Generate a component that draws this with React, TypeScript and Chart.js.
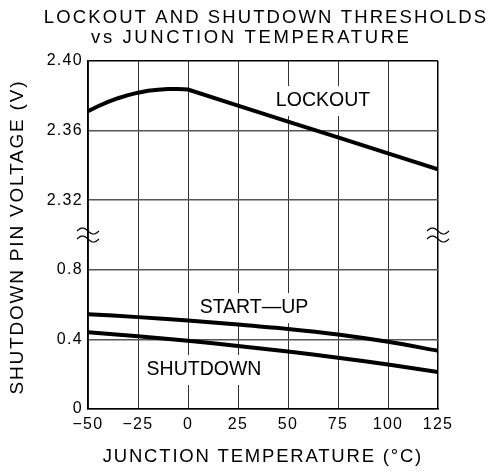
import React, { useEffect, useRef } from "react";
import { Chart, registerables } from "chart.js";

Chart.register(...registerables);

// Data
const LOCKOUT_TEMPS = [-50, -45, -40, -35, -30, -25, -20, -15, -10, -5, 0, 25, 50, 75, 100, 125];
const LOCKOUT_V = [2.3712, 2.374, 2.3765, 2.3786, 2.3804, 2.3818, 2.3829, 2.3835, 2.3839, 2.3839, 2.3836, 2.3744, 2.3652, 2.3561, 2.3469, 2.3378];
const TEMPS = [-50, -25, 0, 25, 50, 75, 100, 125];
const STARTUP_V = [0.545, 0.528, 0.508, 0.485, 0.46, 0.428, 0.386, 0.335];
const SHUTDOWN_V = [0.441, 0.418, 0.392, 0.362, 0.33, 0.295, 0.256, 0.212];
const Y_TICK_LABELS = ["0", "0.4", "0.8", "2.32", "2.36", "2.40"];
const CURVE_LABELS = ["LOCKOUT", "START\u2014UP", "SHUTDOWN"];
const CURVE_LABEL_T = [67.5, 33, 8];
const CURVE_LABEL_V = [2.377, 0.58, 0.224];

const TITLE_1 = "LOCKOUT AND SHUTDOWN THRESHOLDS";
const TITLE_2 = "vs JUNCTION TEMPERATURE";
const X_TITLE = "JUNCTION TEMPERATURE (\u00B0C)";
const Y_TITLE = "SHUTDOWN PIN VOLTAGE (V)";

const FONT = "'Liberation Sans', Arial, sans-serif";

// broken axis: lower part 0..0.8 (0.4 per unit), upper 2.32..2.40 (0.04 per unit)
const toAxis = (v: number) => (v >= 2 ? 3 + (v - 2.32) / 0.04 : v / 0.4);

const pts = (xs: number[], ys: number[]) => xs.map((x, i) => ({ x, y: toAxis(ys[i]) }));

export default function App() {
  const ref = useRef<HTMLCanvasElement | null>(null);

  useEffect(() => {
    const canvas = ref.current;
    if (!canvas) return;

    const spacedText = (
      ctx: CanvasRenderingContext2D,
      text: string,
      x: number,
      y: number,
      size: number,
      spacing: number
    ) => {
      ctx.save();
      ctx.font = `${size}px ${FONT}`;
      (ctx as any).letterSpacing = `${spacing}px`;
      ctx.fillStyle = "#000";
      ctx.textAlign = "center";
      ctx.textBaseline = "middle";
      ctx.fillText(text, x + spacing / 2, y);
      ctx.restore();
    };

    const decor = {
      id: "decor",
      beforeDraw(chart: any) {
        (chart.ctx as any).letterSpacing = "1.3px";
      },
      beforeDatasetsDraw(chart: any) {
        const ctx = chart.ctx as CanvasRenderingContext2D;
        const xs = chart.scales.x;
        const ys = chart.scales.y;
        CURVE_LABELS.forEach((t, i) => {
          const cx = xs.getPixelForValue(CURVE_LABEL_T[i]);
          const cy = ys.getPixelForValue(toAxis(CURVE_LABEL_V[i]));
          ctx.save();
          ctx.font = `19.5px ${FONT}`;
          (ctx as any).letterSpacing = "0px";
          const w = ctx.measureText(t).width;
          ctx.fillStyle = "#fff";
          ctx.fillRect(cx - w / 2 - 4, cy - 15, w + 8, 30);
          ctx.restore();
          spacedText(ctx, t, cx, cy, 19.5, 0);
        });
      },
      afterDraw(chart: any) {
        const ctx = chart.ctx as CanvasRenderingContext2D;
        const area = chart.chartArea;
        spacedText(ctx, TITLE_1, 265, 18, 18.5, 2.1);
        spacedText(ctx, TITLE_2, 250, 38, 18.5, 2.6);
        spacedText(ctx, X_TITLE, 262, 457, 18.5, 1.8);
        ctx.save();
        ctx.translate(18, 238);
        ctx.rotate(-Math.PI / 2);
        spacedText(ctx, Y_TITLE, 0, 0, 19, 1.8);
        ctx.restore();

        // break marks
        const yb = chart.scales.y.getPixelForValue(2.5);
        ctx.save();
        ctx.strokeStyle = "#000";
        ctx.lineWidth = 1.2;
        [area.left, area.right].forEach((xc: number) => {
          [-4, 4].forEach((dy) => {
            ctx.beginPath();
            for (let k = 0; k <= 24; k++) {
              const px = xc - 11 + (22 * k) / 24;
              const py = yb + dy - 3 * Math.sin((2 * Math.PI * k) / 24);
              if (k === 0) ctx.moveTo(px, py);
              else ctx.lineTo(px, py);
            }
            ctx.stroke();
          });
        });
        ctx.restore();
      },
    };

    const lineStyle = {
      borderColor: "#000",
      borderWidth: 4,
      pointRadius: 0,
      fill: false,
      borderCapStyle: "butt" as const,
    };

    const chart = new Chart(canvas, {
      type: "line",
      data: {
        datasets: [
          { ...lineStyle, label: "LOCKOUT", data: pts(LOCKOUT_TEMPS, LOCKOUT_V), tension: 0 },
          { ...lineStyle, label: "START-UP", data: pts(TEMPS, STARTUP_V), tension: 0.3 },
          { ...lineStyle, label: "SHUTDOWN", data: pts(TEMPS, SHUTDOWN_V), tension: 0.3 },
        ],
      },
      options: {
        responsive: false,
        animation: false,
        events: [],
        layout: { padding: { left: 0, right: 50, top: 61, bottom: 0 } },
        plugins: { legend: { display: false }, title: { display: false }, tooltip: { enabled: false } },
        scales: {
          x: {
            type: "linear",
            min: -50,
            max: 125,
            afterFit: (s: any) => {
              s.height = 66;
            },
            ticks: {
              stepSize: 25,
              color: "#000",
              font: { size: 16, family: FONT },
              padding: 6,
              maxRotation: 0,
              callback: (v: any) => (v < 0 ? "\u2212" + Math.abs(v) : String(v)),
            },
            grid: {
              drawTicks: false,
              color: (c: any) => (c.tick && c.tick.value === 125 ? "#000" : "#333"),
              lineWidth: (c: any) => (c.tick && c.tick.value === 125 ? 1.5 : 1),
            },
            border: { color: "#000", width: 1.5 },
          },
          y: {
            type: "linear",
            min: 0,
            max: 5,
            afterFit: (s: any) => {
              s.width = 88;
            },
            ticks: {
              stepSize: 1,
              color: "#000",
              font: { size: 16, family: FONT },
              padding: 5,
              callback: (v: any) => Y_TICK_LABELS[Math.round(v)] ?? "",
            },
            grid: {
              drawTicks: false,
              color: (c: any) => (c.tick && c.tick.value === 5 ? "#000" : "#555"),
              lineWidth: 1.5,
            },
            border: { color: "#000", width: 1.5 },
          },
        },
      },
      plugins: [decor],
    });

    return () => chart.destroy();
  }, []);

  return (
    <div style={{ position: "absolute", left: 0, top: 0, width: 488, height: 475, background: "#fff" }}>
      <canvas ref={ref} width={488} height={475} style={{ display: "block" }} />
    </div>
  );
}
